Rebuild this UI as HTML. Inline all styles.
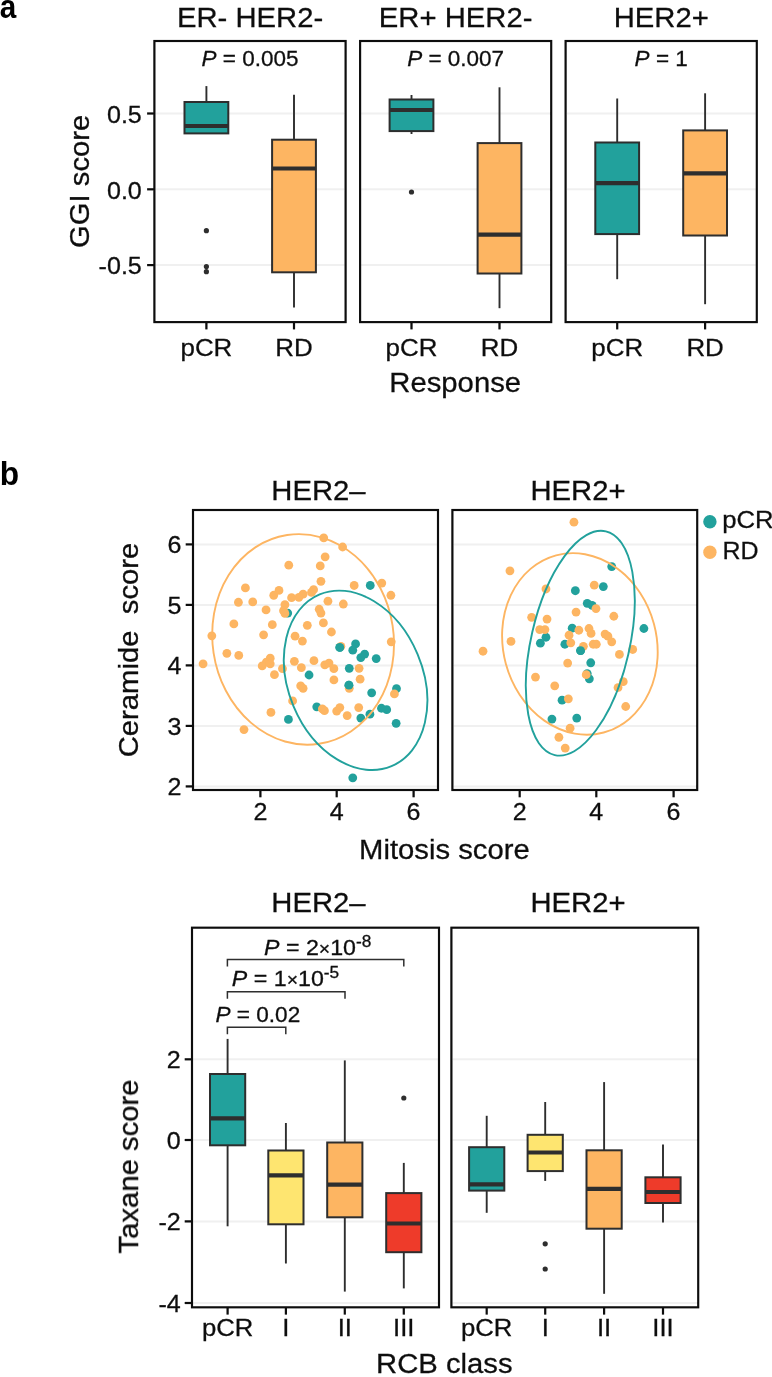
<!DOCTYPE html>
<html><head><meta charset="utf-8"><title>Figure</title>
<style>
html,body{margin:0;padding:0;background:#fff;}
svg{display:block;font-family:"Liberation Sans",sans-serif;}
</style></head><body>
<svg width="772" height="1377" viewBox="0 0 772 1377">
<defs><filter id="soft" x="0" y="0" width="772" height="1377" filterUnits="userSpaceOnUse"><feGaussianBlur stdDeviation="0.35"/></filter></defs>
<rect width="772" height="1377" fill="#fff"/>
<g filter="url(#soft)">
<text transform="translate(-0.30,17.70) scale(0.9,1)" font-size="33" text-anchor="start" font-weight="bold" font-style="normal" fill="#000" stroke="#000" stroke-width="0" >a</text>
<text transform="translate(-0.30,484.70) scale(0.96,1)" font-size="33" text-anchor="start" font-weight="bold" font-style="normal" fill="#000" stroke="#000" stroke-width="0" >b</text>
<line x1="154.40" x2="345.60" y1="113.50" y2="113.50" stroke="#F0F0F0" stroke-width="2"/>
<line x1="154.40" x2="345.60" y1="189.30" y2="189.30" stroke="#F0F0F0" stroke-width="2"/>
<line x1="154.40" x2="345.60" y1="265.10" y2="265.10" stroke="#F0F0F0" stroke-width="2"/>
<line x1="206.40" x2="206.40" y1="86.10" y2="102.00" stroke="#2e2e2e" stroke-width="1.9"/>
<rect x="184.50" y="102.00" width="43.80" height="31.40" fill="#21A19C" stroke="#2e2e2e" stroke-width="2.0"/>
<line x1="184.50" x2="228.30" y1="126.00" y2="126.00" stroke="#2e2e2e" stroke-width="4.2"/>
<circle cx="206.40" cy="230.70" r="2.6" fill="#2e2e2e"/>
<circle cx="206.40" cy="266.60" r="2.6" fill="#2e2e2e"/>
<circle cx="206.40" cy="271.70" r="2.6" fill="#2e2e2e"/>
<line x1="294.00" x2="294.00" y1="94.70" y2="139.70" stroke="#2e2e2e" stroke-width="1.9"/>
<line x1="294.00" x2="294.00" y1="272.30" y2="307.60" stroke="#2e2e2e" stroke-width="1.9"/>
<rect x="272.10" y="139.70" width="43.80" height="132.60" fill="#FDB562" stroke="#2e2e2e" stroke-width="2.0"/>
<line x1="272.10" x2="315.90" y1="168.50" y2="168.50" stroke="#2e2e2e" stroke-width="4.2"/>
<rect x="154.40" y="41.00" width="191.20" height="281.10" fill="none" stroke="#0a0a0a" stroke-width="2.15"/>
<text transform="translate(250.00,26.70) scale(1.045,1)" font-size="28" text-anchor="middle" font-weight="normal" font-style="normal" fill="#111" stroke="#111" stroke-width="0.3" >ER- HER2-</text>
<text transform="translate(250.00,66.10) scale(1.0,1)" font-size="22.5" text-anchor="middle" font-weight="normal" font-style="normal" fill="#111" stroke="#111" stroke-width="0.3" ><tspan font-style="italic">P</tspan> = 0.005</text>
<line x1="206.40" x2="206.40" y1="322.10" y2="329.40" stroke="#0a0a0a" stroke-width="2.2"/>
<text transform="translate(206.40,355.90) scale(1.08,1)" font-size="24" text-anchor="middle" font-weight="normal" font-style="normal" fill="#111" stroke="#111" stroke-width="0.3" >pCR</text>
<line x1="294.00" x2="294.00" y1="322.10" y2="329.40" stroke="#0a0a0a" stroke-width="2.2"/>
<text transform="translate(294.00,355.90) scale(1.08,1)" font-size="24" text-anchor="middle" font-weight="normal" font-style="normal" fill="#111" stroke="#111" stroke-width="0.3" >RD</text>
<line x1="360.10" x2="551.20" y1="113.50" y2="113.50" stroke="#F0F0F0" stroke-width="2"/>
<line x1="360.10" x2="551.20" y1="189.30" y2="189.30" stroke="#F0F0F0" stroke-width="2"/>
<line x1="360.10" x2="551.20" y1="265.10" y2="265.10" stroke="#F0F0F0" stroke-width="2"/>
<line x1="411.50" x2="411.50" y1="95.00" y2="99.50" stroke="#2e2e2e" stroke-width="1.9"/>
<line x1="411.50" x2="411.50" y1="131.10" y2="134.00" stroke="#2e2e2e" stroke-width="1.9"/>
<rect x="389.60" y="99.50" width="43.80" height="31.60" fill="#21A19C" stroke="#2e2e2e" stroke-width="2.0"/>
<line x1="389.60" x2="433.40" y1="110.00" y2="110.00" stroke="#2e2e2e" stroke-width="4.2"/>
<circle cx="411.50" cy="192.00" r="2.6" fill="#2e2e2e"/>
<line x1="499.50" x2="499.50" y1="87.30" y2="143.10" stroke="#2e2e2e" stroke-width="1.9"/>
<line x1="499.50" x2="499.50" y1="273.50" y2="308.20" stroke="#2e2e2e" stroke-width="1.9"/>
<rect x="477.60" y="143.10" width="43.80" height="130.40" fill="#FDB562" stroke="#2e2e2e" stroke-width="2.0"/>
<line x1="477.60" x2="521.40" y1="234.70" y2="234.70" stroke="#2e2e2e" stroke-width="4.2"/>
<rect x="360.10" y="41.00" width="191.10" height="281.10" fill="none" stroke="#0a0a0a" stroke-width="2.15"/>
<text transform="translate(455.65,26.70) scale(1.045,1)" font-size="28" text-anchor="middle" font-weight="normal" font-style="normal" fill="#111" stroke="#111" stroke-width="0.3" >ER+ HER2-</text>
<text transform="translate(455.65,66.10) scale(1.0,1)" font-size="22.5" text-anchor="middle" font-weight="normal" font-style="normal" fill="#111" stroke="#111" stroke-width="0.3" ><tspan font-style="italic">P</tspan> = 0.007</text>
<line x1="411.50" x2="411.50" y1="322.10" y2="329.40" stroke="#0a0a0a" stroke-width="2.2"/>
<text transform="translate(411.50,355.90) scale(1.08,1)" font-size="24" text-anchor="middle" font-weight="normal" font-style="normal" fill="#111" stroke="#111" stroke-width="0.3" >pCR</text>
<line x1="499.50" x2="499.50" y1="322.10" y2="329.40" stroke="#0a0a0a" stroke-width="2.2"/>
<text transform="translate(499.50,355.90) scale(1.08,1)" font-size="24" text-anchor="middle" font-weight="normal" font-style="normal" fill="#111" stroke="#111" stroke-width="0.3" >RD</text>
<line x1="565.60" x2="756.80" y1="113.50" y2="113.50" stroke="#F0F0F0" stroke-width="2"/>
<line x1="565.60" x2="756.80" y1="189.30" y2="189.30" stroke="#F0F0F0" stroke-width="2"/>
<line x1="565.60" x2="756.80" y1="265.10" y2="265.10" stroke="#F0F0F0" stroke-width="2"/>
<line x1="617.20" x2="617.20" y1="98.50" y2="142.50" stroke="#2e2e2e" stroke-width="1.9"/>
<line x1="617.20" x2="617.20" y1="234.10" y2="279.20" stroke="#2e2e2e" stroke-width="1.9"/>
<rect x="595.30" y="142.50" width="43.80" height="91.60" fill="#21A19C" stroke="#2e2e2e" stroke-width="2.0"/>
<line x1="595.30" x2="639.10" y1="183.10" y2="183.10" stroke="#2e2e2e" stroke-width="4.2"/>
<line x1="705.10" x2="705.10" y1="93.30" y2="130.40" stroke="#2e2e2e" stroke-width="1.9"/>
<line x1="705.10" x2="705.10" y1="235.50" y2="304.20" stroke="#2e2e2e" stroke-width="1.9"/>
<rect x="683.20" y="130.40" width="43.80" height="105.10" fill="#FDB562" stroke="#2e2e2e" stroke-width="2.0"/>
<line x1="683.20" x2="727.00" y1="173.30" y2="173.30" stroke="#2e2e2e" stroke-width="4.2"/>
<rect x="565.60" y="41.00" width="191.20" height="281.10" fill="none" stroke="#0a0a0a" stroke-width="2.15"/>
<text transform="translate(661.20,26.70) scale(1.045,1)" font-size="28" text-anchor="middle" font-weight="normal" font-style="normal" fill="#111" stroke="#111" stroke-width="0.3" >HER2+</text>
<text transform="translate(661.20,66.10) scale(1.0,1)" font-size="22.5" text-anchor="middle" font-weight="normal" font-style="normal" fill="#111" stroke="#111" stroke-width="0.3" ><tspan font-style="italic">P</tspan> = 1</text>
<line x1="617.20" x2="617.20" y1="322.10" y2="329.40" stroke="#0a0a0a" stroke-width="2.2"/>
<text transform="translate(617.20,355.90) scale(1.08,1)" font-size="24" text-anchor="middle" font-weight="normal" font-style="normal" fill="#111" stroke="#111" stroke-width="0.3" >pCR</text>
<line x1="705.10" x2="705.10" y1="322.10" y2="329.40" stroke="#0a0a0a" stroke-width="2.2"/>
<text transform="translate(705.10,355.90) scale(1.08,1)" font-size="24" text-anchor="middle" font-weight="normal" font-style="normal" fill="#111" stroke="#111" stroke-width="0.3" >RD</text>
<line x1="147.10" x2="154.40" y1="113.50" y2="113.50" stroke="#0a0a0a" stroke-width="2.2"/>
<text transform="translate(141.80,122.80) scale(1.045,1)" font-size="24" text-anchor="end" font-weight="normal" font-style="normal" fill="#111" stroke="#111" stroke-width="0.3" >0.5</text>
<line x1="147.10" x2="154.40" y1="189.30" y2="189.30" stroke="#0a0a0a" stroke-width="2.2"/>
<text transform="translate(141.80,198.60) scale(1.045,1)" font-size="24" text-anchor="end" font-weight="normal" font-style="normal" fill="#111" stroke="#111" stroke-width="0.3" >0.0</text>
<line x1="147.10" x2="154.40" y1="265.10" y2="265.10" stroke="#0a0a0a" stroke-width="2.2"/>
<text transform="translate(141.80,274.40) scale(1.045,1)" font-size="24" text-anchor="end" font-weight="normal" font-style="normal" fill="#111" stroke="#111" stroke-width="0.3" >-0.5</text>
<text transform="translate(88.80,181.30) rotate(-90) scale(1.045,1)" font-size="28" text-anchor="middle" fill="#111" stroke="#111" stroke-width="0.3" >GGI score</text>
<text transform="translate(455.20,392.20) scale(1.045,1)" font-size="28" text-anchor="middle" font-weight="normal" font-style="normal" fill="#111" stroke="#111" stroke-width="0.3" >Response</text>
<line x1="193.00" x2="438.00" y1="786.42" y2="786.42" stroke="#F0F0F0" stroke-width="2"/>
<line x1="193.00" x2="438.00" y1="725.91" y2="725.91" stroke="#F0F0F0" stroke-width="2"/>
<line x1="193.00" x2="438.00" y1="665.40" y2="665.40" stroke="#F0F0F0" stroke-width="2"/>
<line x1="193.00" x2="438.00" y1="604.89" y2="604.89" stroke="#F0F0F0" stroke-width="2"/>
<line x1="193.00" x2="438.00" y1="544.38" y2="544.38" stroke="#F0F0F0" stroke-width="2"/>
<line x1="452.40" x2="697.20" y1="786.42" y2="786.42" stroke="#F0F0F0" stroke-width="2"/>
<line x1="452.40" x2="697.20" y1="725.91" y2="725.91" stroke="#F0F0F0" stroke-width="2"/>
<line x1="452.40" x2="697.20" y1="665.40" y2="665.40" stroke="#F0F0F0" stroke-width="2"/>
<line x1="452.40" x2="697.20" y1="604.89" y2="604.89" stroke="#F0F0F0" stroke-width="2"/>
<line x1="452.40" x2="697.20" y1="544.38" y2="544.38" stroke="#F0F0F0" stroke-width="2"/>
<circle cx="370.26" cy="585.48" r="4.4" fill="#21A19C"/>
<circle cx="287.72" cy="613.11" r="4.4" fill="#21A19C"/>
<circle cx="339.83" cy="647.38" r="4.4" fill="#21A19C"/>
<circle cx="355.57" cy="643.89" r="4.4" fill="#21A19C"/>
<circle cx="352.77" cy="650.18" r="4.4" fill="#21A19C"/>
<circle cx="364.66" cy="654.03" r="4.4" fill="#21A19C"/>
<circle cx="360.82" cy="657.53" r="4.4" fill="#21A19C"/>
<circle cx="376.20" cy="658.58" r="4.4" fill="#21A19C"/>
<circle cx="349.27" cy="668.37" r="4.4" fill="#21A19C"/>
<circle cx="309.05" cy="675.01" r="4.4" fill="#21A19C"/>
<circle cx="348.92" cy="685.16" r="4.4" fill="#21A19C"/>
<circle cx="371.66" cy="692.85" r="4.4" fill="#21A19C"/>
<circle cx="396.49" cy="688.65" r="4.4" fill="#21A19C"/>
<circle cx="316.75" cy="706.84" r="4.4" fill="#21A19C"/>
<circle cx="288.42" cy="719.43" r="4.4" fill="#21A19C"/>
<circle cx="360.82" cy="718.03" r="4.4" fill="#21A19C"/>
<circle cx="369.91" cy="714.18" r="4.4" fill="#21A19C"/>
<circle cx="381.45" cy="708.24" r="4.4" fill="#21A19C"/>
<circle cx="386.70" cy="709.64" r="4.4" fill="#21A19C"/>
<circle cx="396.14" cy="723.28" r="4.4" fill="#21A19C"/>
<circle cx="352.77" cy="777.84" r="4.4" fill="#21A19C"/>
<circle cx="323.74" cy="537.91" r="4.4" fill="#FDB562"/>
<circle cx="342.63" cy="547.01" r="4.4" fill="#FDB562"/>
<circle cx="325.14" cy="556.80" r="4.4" fill="#FDB562"/>
<circle cx="288.77" cy="565.19" r="4.4" fill="#FDB562"/>
<circle cx="320.25" cy="565.89" r="4.4" fill="#FDB562"/>
<circle cx="320.95" cy="581.28" r="4.4" fill="#FDB562"/>
<circle cx="354.17" cy="585.48" r="4.4" fill="#FDB562"/>
<circle cx="381.80" cy="583.03" r="4.4" fill="#FDB562"/>
<circle cx="390.89" cy="595.27" r="4.4" fill="#FDB562"/>
<circle cx="245.40" cy="587.93" r="4.4" fill="#FDB562"/>
<circle cx="278.98" cy="590.38" r="4.4" fill="#FDB562"/>
<circle cx="273.73" cy="595.27" r="4.4" fill="#FDB562"/>
<circle cx="313.60" cy="589.68" r="4.4" fill="#FDB562"/>
<circle cx="311.50" cy="592.47" r="4.4" fill="#FDB562"/>
<circle cx="303.11" cy="594.22" r="4.4" fill="#FDB562"/>
<circle cx="298.91" cy="597.37" r="4.4" fill="#FDB562"/>
<circle cx="291.57" cy="597.72" r="4.4" fill="#FDB562"/>
<circle cx="238.41" cy="602.27" r="4.4" fill="#FDB562"/>
<circle cx="252.75" cy="601.92" r="4.4" fill="#FDB562"/>
<circle cx="284.92" cy="604.72" r="4.4" fill="#FDB562"/>
<circle cx="327.94" cy="601.22" r="4.4" fill="#FDB562"/>
<circle cx="343.33" cy="604.02" r="4.4" fill="#FDB562"/>
<circle cx="266.04" cy="609.96" r="4.4" fill="#FDB562"/>
<circle cx="283.52" cy="610.66" r="4.4" fill="#FDB562"/>
<circle cx="284.92" cy="613.46" r="4.4" fill="#FDB562"/>
<circle cx="319.20" cy="609.26" r="4.4" fill="#FDB562"/>
<circle cx="320.95" cy="613.11" r="4.4" fill="#FDB562"/>
<circle cx="233.86" cy="623.95" r="4.4" fill="#FDB562"/>
<circle cx="272.33" cy="624.65" r="4.4" fill="#FDB562"/>
<circle cx="307.31" cy="625.35" r="4.4" fill="#FDB562"/>
<circle cx="323.39" cy="622.90" r="4.4" fill="#FDB562"/>
<circle cx="211.83" cy="635.84" r="4.4" fill="#FDB562"/>
<circle cx="263.59" cy="634.79" r="4.4" fill="#FDB562"/>
<circle cx="295.06" cy="636.19" r="4.4" fill="#FDB562"/>
<circle cx="302.41" cy="641.09" r="4.4" fill="#FDB562"/>
<circle cx="331.44" cy="631.99" r="4.4" fill="#FDB562"/>
<circle cx="391.24" cy="641.79" r="4.4" fill="#FDB562"/>
<circle cx="226.87" cy="653.33" r="4.4" fill="#FDB562"/>
<circle cx="238.76" cy="655.43" r="4.4" fill="#FDB562"/>
<circle cx="203.08" cy="663.82" r="4.4" fill="#FDB562"/>
<circle cx="270.23" cy="658.23" r="4.4" fill="#FDB562"/>
<circle cx="266.39" cy="662.07" r="4.4" fill="#FDB562"/>
<circle cx="262.19" cy="665.92" r="4.4" fill="#FDB562"/>
<circle cx="270.23" cy="663.82" r="4.4" fill="#FDB562"/>
<circle cx="282.47" cy="668.72" r="4.4" fill="#FDB562"/>
<circle cx="294.37" cy="661.37" r="4.4" fill="#FDB562"/>
<circle cx="301.36" cy="667.67" r="4.4" fill="#FDB562"/>
<circle cx="313.95" cy="660.67" r="4.4" fill="#FDB562"/>
<circle cx="324.79" cy="664.87" r="4.4" fill="#FDB562"/>
<circle cx="328.99" cy="663.12" r="4.4" fill="#FDB562"/>
<circle cx="333.89" cy="668.72" r="4.4" fill="#FDB562"/>
<circle cx="359.07" cy="668.37" r="4.4" fill="#FDB562"/>
<circle cx="274.43" cy="674.66" r="4.4" fill="#FDB562"/>
<circle cx="333.89" cy="679.91" r="4.4" fill="#FDB562"/>
<circle cx="360.12" cy="679.21" r="4.4" fill="#FDB562"/>
<circle cx="300.66" cy="685.85" r="4.4" fill="#FDB562"/>
<circle cx="303.11" cy="688.30" r="4.4" fill="#FDB562"/>
<circle cx="349.27" cy="688.30" r="4.4" fill="#FDB562"/>
<circle cx="394.39" cy="693.90" r="4.4" fill="#FDB562"/>
<circle cx="292.62" cy="700.89" r="4.4" fill="#FDB562"/>
<circle cx="270.93" cy="712.44" r="4.4" fill="#FDB562"/>
<circle cx="322.34" cy="708.94" r="4.4" fill="#FDB562"/>
<circle cx="324.44" cy="710.69" r="4.4" fill="#FDB562"/>
<circle cx="336.68" cy="711.04" r="4.4" fill="#FDB562"/>
<circle cx="339.83" cy="707.54" r="4.4" fill="#FDB562"/>
<circle cx="347.18" cy="715.58" r="4.4" fill="#FDB562"/>
<circle cx="358.72" cy="707.54" r="4.4" fill="#FDB562"/>
<circle cx="244.00" cy="729.57" r="4.4" fill="#FDB562"/>
<circle cx="340.88" cy="646.33" r="4.4" fill="#FDB562"/>
<circle cx="348.92" cy="685.16" r="4.4" fill="#21A19C"/>
<circle cx="339.83" cy="647.38" r="4.4" fill="#21A19C"/>
<ellipse cx="303.10" cy="639.40" rx="105.62" ry="90.53" transform="rotate(81.31 303.10 639.40)" fill="none" stroke="#FDB562" stroke-width="1.9"/>
<ellipse cx="355.60" cy="680.30" rx="93.08" ry="67.26" transform="rotate(67.29 355.60 680.30)" fill="none" stroke="#21A19C" stroke-width="1.9"/>
<circle cx="611.72" cy="566.59" r="4.4" fill="#21A19C"/>
<circle cx="575.35" cy="590.73" r="4.4" fill="#21A19C"/>
<circle cx="603.33" cy="586.53" r="4.4" fill="#21A19C"/>
<circle cx="587.24" cy="603.32" r="4.4" fill="#21A19C"/>
<circle cx="592.14" cy="605.41" r="4.4" fill="#21A19C"/>
<circle cx="572.20" cy="628.15" r="4.4" fill="#21A19C"/>
<circle cx="643.90" cy="628.50" r="4.4" fill="#21A19C"/>
<circle cx="545.97" cy="637.24" r="4.4" fill="#21A19C"/>
<circle cx="540.38" cy="643.19" r="4.4" fill="#21A19C"/>
<circle cx="564.86" cy="644.24" r="4.4" fill="#21A19C"/>
<circle cx="580.60" cy="650.53" r="4.4" fill="#21A19C"/>
<circle cx="590.74" cy="662.77" r="4.4" fill="#21A19C"/>
<circle cx="587.24" cy="673.61" r="4.4" fill="#21A19C"/>
<circle cx="589.34" cy="678.86" r="4.4" fill="#21A19C"/>
<circle cx="562.06" cy="700.19" r="4.4" fill="#21A19C"/>
<circle cx="551.92" cy="719.08" r="4.4" fill="#21A19C"/>
<circle cx="576.75" cy="718.03" r="4.4" fill="#21A19C"/>
<circle cx="573.95" cy="522.18" r="4.4" fill="#FDB562"/>
<circle cx="509.95" cy="570.79" r="4.4" fill="#FDB562"/>
<circle cx="545.97" cy="588.98" r="4.4" fill="#FDB562"/>
<circle cx="594.24" cy="585.13" r="4.4" fill="#FDB562"/>
<circle cx="576.05" cy="612.06" r="4.4" fill="#FDB562"/>
<circle cx="595.98" cy="608.56" r="4.4" fill="#FDB562"/>
<circle cx="531.63" cy="617.31" r="4.4" fill="#FDB562"/>
<circle cx="547.02" cy="619.05" r="4.4" fill="#FDB562"/>
<circle cx="613.82" cy="616.26" r="4.4" fill="#FDB562"/>
<circle cx="539.68" cy="629.55" r="4.4" fill="#FDB562"/>
<circle cx="544.92" cy="629.55" r="4.4" fill="#FDB562"/>
<circle cx="578.85" cy="630.25" r="4.4" fill="#FDB562"/>
<circle cx="588.99" cy="628.50" r="4.4" fill="#FDB562"/>
<circle cx="591.09" cy="633.39" r="4.4" fill="#FDB562"/>
<circle cx="569.05" cy="635.14" r="4.4" fill="#FDB562"/>
<circle cx="570.80" cy="642.84" r="4.4" fill="#FDB562"/>
<circle cx="605.08" cy="634.09" r="4.4" fill="#FDB562"/>
<circle cx="607.88" cy="636.19" r="4.4" fill="#FDB562"/>
<circle cx="611.72" cy="641.79" r="4.4" fill="#FDB562"/>
<circle cx="583.39" cy="646.33" r="4.4" fill="#FDB562"/>
<circle cx="593.19" cy="644.24" r="4.4" fill="#FDB562"/>
<circle cx="596.33" cy="644.24" r="4.4" fill="#FDB562"/>
<circle cx="511.00" cy="641.44" r="4.4" fill="#FDB562"/>
<circle cx="483.02" cy="651.23" r="4.4" fill="#FDB562"/>
<circle cx="632.71" cy="649.48" r="4.4" fill="#FDB562"/>
<circle cx="619.42" cy="654.38" r="4.4" fill="#FDB562"/>
<circle cx="567.66" cy="663.12" r="4.4" fill="#FDB562"/>
<circle cx="535.48" cy="677.11" r="4.4" fill="#FDB562"/>
<circle cx="586.19" cy="674.66" r="4.4" fill="#FDB562"/>
<circle cx="554.72" cy="685.85" r="4.4" fill="#FDB562"/>
<circle cx="623.26" cy="681.66" r="4.4" fill="#FDB562"/>
<circle cx="618.02" cy="687.60" r="4.4" fill="#FDB562"/>
<circle cx="568.35" cy="698.80" r="4.4" fill="#FDB562"/>
<circle cx="625.71" cy="706.49" r="4.4" fill="#FDB562"/>
<circle cx="570.10" cy="728.17" r="4.4" fill="#FDB562"/>
<circle cx="558.91" cy="737.27" r="4.4" fill="#FDB562"/>
<circle cx="565.21" cy="748.11" r="4.4" fill="#FDB562"/>
<circle cx="580.60" cy="650.53" r="4.4" fill="#21A19C"/>
<ellipse cx="579.90" cy="643.90" rx="91.74" ry="76.70" transform="rotate(74.96 579.90 643.90)" fill="none" stroke="#FDB562" stroke-width="1.9"/>
<ellipse cx="580.30" cy="643.20" rx="114.74" ry="49.27" transform="rotate(102.86 580.30 643.20)" fill="none" stroke="#21A19C" stroke-width="1.9"/>
<rect x="193.00" y="510.00" width="245.00" height="280.00" fill="none" stroke="#0a0a0a" stroke-width="2.15"/>
<line x1="260.40" x2="260.40" y1="790.00" y2="797.30" stroke="#0a0a0a" stroke-width="2.2"/>
<text transform="translate(260.40,820.00) scale(1.045,1)" font-size="24" text-anchor="middle" font-weight="normal" font-style="normal" fill="#111" stroke="#111" stroke-width="0.3" >2</text>
<line x1="336.70" x2="336.70" y1="790.00" y2="797.30" stroke="#0a0a0a" stroke-width="2.2"/>
<text transform="translate(336.70,820.00) scale(1.045,1)" font-size="24" text-anchor="middle" font-weight="normal" font-style="normal" fill="#111" stroke="#111" stroke-width="0.3" >4</text>
<line x1="413.60" x2="413.60" y1="790.00" y2="797.30" stroke="#0a0a0a" stroke-width="2.2"/>
<text transform="translate(413.60,820.00) scale(1.045,1)" font-size="24" text-anchor="middle" font-weight="normal" font-style="normal" fill="#111" stroke="#111" stroke-width="0.3" >6</text>
<rect x="452.40" y="510.00" width="244.80" height="280.00" fill="none" stroke="#0a0a0a" stroke-width="2.15"/>
<line x1="519.70" x2="519.70" y1="790.00" y2="797.30" stroke="#0a0a0a" stroke-width="2.2"/>
<text transform="translate(519.70,820.00) scale(1.045,1)" font-size="24" text-anchor="middle" font-weight="normal" font-style="normal" fill="#111" stroke="#111" stroke-width="0.3" >2</text>
<line x1="596.30" x2="596.30" y1="790.00" y2="797.30" stroke="#0a0a0a" stroke-width="2.2"/>
<text transform="translate(596.30,820.00) scale(1.045,1)" font-size="24" text-anchor="middle" font-weight="normal" font-style="normal" fill="#111" stroke="#111" stroke-width="0.3" >4</text>
<line x1="673.60" x2="673.60" y1="790.00" y2="797.30" stroke="#0a0a0a" stroke-width="2.2"/>
<text transform="translate(673.60,820.00) scale(1.045,1)" font-size="24" text-anchor="middle" font-weight="normal" font-style="normal" fill="#111" stroke="#111" stroke-width="0.3" >6</text>
<text transform="translate(318.50,500.30) scale(1.045,1)" font-size="28" text-anchor="middle" font-weight="normal" font-style="normal" fill="#111" stroke="#111" stroke-width="0.3" >HER2–</text>
<text transform="translate(578.00,500.30) scale(1.045,1)" font-size="28" text-anchor="middle" font-weight="normal" font-style="normal" fill="#111" stroke="#111" stroke-width="0.3" >HER2+</text>
<line x1="185.70" x2="193.00" y1="786.42" y2="786.42" stroke="#0a0a0a" stroke-width="2.2"/>
<text transform="translate(181.40,795.42) scale(1.045,1)" font-size="24" text-anchor="end" font-weight="normal" font-style="normal" fill="#111" stroke="#111" stroke-width="0.3" >2</text>
<line x1="185.70" x2="193.00" y1="725.91" y2="725.91" stroke="#0a0a0a" stroke-width="2.2"/>
<text transform="translate(181.40,734.91) scale(1.045,1)" font-size="24" text-anchor="end" font-weight="normal" font-style="normal" fill="#111" stroke="#111" stroke-width="0.3" >3</text>
<line x1="185.70" x2="193.00" y1="665.40" y2="665.40" stroke="#0a0a0a" stroke-width="2.2"/>
<text transform="translate(181.40,674.40) scale(1.045,1)" font-size="24" text-anchor="end" font-weight="normal" font-style="normal" fill="#111" stroke="#111" stroke-width="0.3" >4</text>
<line x1="185.70" x2="193.00" y1="604.89" y2="604.89" stroke="#0a0a0a" stroke-width="2.2"/>
<text transform="translate(181.40,613.89) scale(1.045,1)" font-size="24" text-anchor="end" font-weight="normal" font-style="normal" fill="#111" stroke="#111" stroke-width="0.3" >5</text>
<line x1="185.70" x2="193.00" y1="544.38" y2="544.38" stroke="#0a0a0a" stroke-width="2.2"/>
<text transform="translate(181.40,553.38) scale(1.045,1)" font-size="24" text-anchor="end" font-weight="normal" font-style="normal" fill="#111" stroke="#111" stroke-width="0.3" >6</text>
<text transform="translate(137.50,650.00) rotate(-90) scale(1.045,1)" font-size="28" text-anchor="middle" fill="#111" stroke="#111" stroke-width="0.3" xml:space="preserve">Ceramide&#160;&#160;score</text>
<text transform="translate(444.40,859.30) scale(1.045,1)" font-size="28" text-anchor="middle" font-weight="normal" font-style="normal" fill="#111" stroke="#111" stroke-width="0.3" >Mitosis score</text>
<circle cx="709.9" cy="521.8" r="6.7" fill="#21A19C"/>
<circle cx="709.9" cy="552.3" r="6.7" fill="#FDB562"/>
<text transform="translate(722.20,528.00) scale(1.07,1)" font-size="24" text-anchor="start" font-weight="normal" font-style="normal" fill="#111" stroke="#111" stroke-width="0.3" >pCR</text>
<text transform="translate(722.50,559.10) scale(1.04,1)" font-size="24" text-anchor="start" font-weight="normal" font-style="normal" fill="#111" stroke="#111" stroke-width="0.3" >RD</text>
<line x1="192.00" x2="439.00" y1="1059.30" y2="1059.30" stroke="#F0F0F0" stroke-width="2"/>
<line x1="192.00" x2="439.00" y1="1140.00" y2="1140.00" stroke="#F0F0F0" stroke-width="2"/>
<line x1="192.00" x2="439.00" y1="1221.40" y2="1221.40" stroke="#F0F0F0" stroke-width="2"/>
<line x1="192.00" x2="439.00" y1="1303.00" y2="1303.00" stroke="#F0F0F0" stroke-width="2"/>
<line x1="451.40" x2="698.20" y1="1059.30" y2="1059.30" stroke="#F0F0F0" stroke-width="2"/>
<line x1="451.40" x2="698.20" y1="1140.00" y2="1140.00" stroke="#F0F0F0" stroke-width="2"/>
<line x1="451.40" x2="698.20" y1="1221.40" y2="1221.40" stroke="#F0F0F0" stroke-width="2"/>
<line x1="451.40" x2="698.20" y1="1303.00" y2="1303.00" stroke="#F0F0F0" stroke-width="2"/>
<line x1="227.60" x2="227.60" y1="1038.90" y2="1074.00" stroke="#2e2e2e" stroke-width="1.9"/>
<line x1="227.60" x2="227.60" y1="1145.30" y2="1226.30" stroke="#2e2e2e" stroke-width="1.9"/>
<rect x="210.00" y="1074.00" width="35.20" height="71.30" fill="#21A19C" stroke="#2e2e2e" stroke-width="2.0"/>
<line x1="210.00" x2="245.20" y1="1118.30" y2="1118.30" stroke="#2e2e2e" stroke-width="4.2"/>
<line x1="285.90" x2="285.90" y1="1123.00" y2="1150.50" stroke="#2e2e2e" stroke-width="1.9"/>
<line x1="285.90" x2="285.90" y1="1224.30" y2="1263.50" stroke="#2e2e2e" stroke-width="1.9"/>
<rect x="268.30" y="1150.50" width="35.20" height="73.80" fill="#FEE570" stroke="#2e2e2e" stroke-width="2.0"/>
<line x1="268.30" x2="303.50" y1="1175.40" y2="1175.40" stroke="#2e2e2e" stroke-width="4.2"/>
<line x1="344.80" x2="344.80" y1="1060.40" y2="1142.50" stroke="#2e2e2e" stroke-width="1.9"/>
<line x1="344.80" x2="344.80" y1="1217.30" y2="1291.60" stroke="#2e2e2e" stroke-width="1.9"/>
<rect x="327.20" y="1142.50" width="35.20" height="74.80" fill="#FDB562" stroke="#2e2e2e" stroke-width="2.0"/>
<line x1="327.20" x2="362.40" y1="1184.60" y2="1184.60" stroke="#2e2e2e" stroke-width="4.2"/>
<line x1="403.80" x2="403.80" y1="1162.90" y2="1193.10" stroke="#2e2e2e" stroke-width="1.9"/>
<line x1="403.80" x2="403.80" y1="1252.20" y2="1288.40" stroke="#2e2e2e" stroke-width="1.9"/>
<rect x="386.20" y="1193.10" width="35.20" height="59.10" fill="#EE3B2B" stroke="#2e2e2e" stroke-width="2.0"/>
<line x1="386.20" x2="421.40" y1="1223.50" y2="1223.50" stroke="#2e2e2e" stroke-width="4.2"/>
<circle cx="403.80" cy="1098.00" r="2.6" fill="#2e2e2e"/>
<line x1="486.70" x2="486.70" y1="1115.80" y2="1147.20" stroke="#2e2e2e" stroke-width="1.9"/>
<line x1="486.70" x2="486.70" y1="1190.60" y2="1212.80" stroke="#2e2e2e" stroke-width="1.9"/>
<rect x="469.10" y="1147.20" width="35.20" height="43.40" fill="#21A19C" stroke="#2e2e2e" stroke-width="2.0"/>
<line x1="469.10" x2="504.30" y1="1184.40" y2="1184.40" stroke="#2e2e2e" stroke-width="4.2"/>
<line x1="545.20" x2="545.20" y1="1102.00" y2="1134.80" stroke="#2e2e2e" stroke-width="1.9"/>
<line x1="545.20" x2="545.20" y1="1171.10" y2="1180.90" stroke="#2e2e2e" stroke-width="1.9"/>
<rect x="527.60" y="1134.80" width="35.20" height="36.30" fill="#FEE570" stroke="#2e2e2e" stroke-width="2.0"/>
<line x1="527.60" x2="562.80" y1="1152.50" y2="1152.50" stroke="#2e2e2e" stroke-width="4.2"/>
<circle cx="545.20" cy="1243.80" r="2.6" fill="#2e2e2e"/>
<circle cx="545.20" cy="1269.00" r="2.6" fill="#2e2e2e"/>
<line x1="604.10" x2="604.10" y1="1082.10" y2="1150.30" stroke="#2e2e2e" stroke-width="1.9"/>
<line x1="604.10" x2="604.10" y1="1228.70" y2="1293.80" stroke="#2e2e2e" stroke-width="1.9"/>
<rect x="586.50" y="1150.30" width="35.20" height="78.40" fill="#FDB562" stroke="#2e2e2e" stroke-width="2.0"/>
<line x1="586.50" x2="621.70" y1="1188.80" y2="1188.80" stroke="#2e2e2e" stroke-width="4.2"/>
<line x1="663.00" x2="663.00" y1="1144.50" y2="1177.30" stroke="#2e2e2e" stroke-width="1.9"/>
<line x1="663.00" x2="663.00" y1="1203.00" y2="1222.50" stroke="#2e2e2e" stroke-width="1.9"/>
<rect x="645.40" y="1177.30" width="35.20" height="25.70" fill="#EE3B2B" stroke="#2e2e2e" stroke-width="2.0"/>
<line x1="645.40" x2="680.60" y1="1192.00" y2="1192.00" stroke="#2e2e2e" stroke-width="4.2"/>
<path d="M227.40,966.40 V959.40 H403.80 V966.40" fill="none" stroke="#2e2e2e" stroke-width="1.5"/>
<path d="M227.40,998.80 V991.80 H345.00 V998.80" fill="none" stroke="#2e2e2e" stroke-width="1.5"/>
<path d="M227.40,1034.20 V1027.20 H285.80 V1034.20" fill="none" stroke="#2e2e2e" stroke-width="1.5"/>
<text transform="translate(264.00,954.80) scale(1.08,1)" font-size="21.5" text-anchor="start" font-weight="normal" font-style="normal" fill="#111" stroke="#111" stroke-width="0.3" ><tspan font-style="italic">P</tspan> = 2<tspan font-size="18">×</tspan>10<tspan font-size="16" dy="-8">-8</tspan></text>
<text transform="translate(231.80,986.20) scale(1.08,1)" font-size="21.5" text-anchor="start" font-weight="normal" font-style="normal" fill="#111" stroke="#111" stroke-width="0.3" ><tspan font-style="italic">P</tspan> = 1<tspan font-size="18">×</tspan>10<tspan font-size="16" dy="-8">-5</tspan></text>
<text transform="translate(215.50,1021.70) scale(1.05,1)" font-size="21.5" text-anchor="start" font-weight="normal" font-style="normal" fill="#111" stroke="#111" stroke-width="0.3" ><tspan font-style="italic">P</tspan> = 0.02</text>
<rect x="192.00" y="927.70" width="247.00" height="379.60" fill="none" stroke="#0a0a0a" stroke-width="2.15"/>
<line x1="227.60" x2="227.60" y1="1307.30" y2="1314.60" stroke="#0a0a0a" stroke-width="2.2"/>
<text transform="translate(227.60,1336.20) scale(1.07,1)" font-size="24" text-anchor="middle" font-weight="normal" font-style="normal" fill="#111" stroke="#111" stroke-width="0.3" >pCR</text>
<line x1="285.90" x2="285.90" y1="1307.30" y2="1314.60" stroke="#0a0a0a" stroke-width="2.2"/>
<text transform="translate(285.90,1336.20) scale(1.07,1)" font-size="24" text-anchor="middle" font-weight="normal" font-style="normal" fill="#111" stroke="#111" stroke-width="0.3" >I</text>
<line x1="344.80" x2="344.80" y1="1307.30" y2="1314.60" stroke="#0a0a0a" stroke-width="2.2"/>
<text transform="translate(344.80,1336.20) scale(1.07,1)" font-size="24" text-anchor="middle" font-weight="normal" font-style="normal" fill="#111" stroke="#111" stroke-width="0.3" >II</text>
<line x1="403.80" x2="403.80" y1="1307.30" y2="1314.60" stroke="#0a0a0a" stroke-width="2.2"/>
<text transform="translate(403.80,1336.20) scale(1.07,1)" font-size="24" text-anchor="middle" font-weight="normal" font-style="normal" fill="#111" stroke="#111" stroke-width="0.3" >III</text>
<rect x="451.40" y="927.70" width="246.80" height="379.60" fill="none" stroke="#0a0a0a" stroke-width="2.15"/>
<line x1="486.70" x2="486.70" y1="1307.30" y2="1314.60" stroke="#0a0a0a" stroke-width="2.2"/>
<text transform="translate(486.70,1336.20) scale(1.07,1)" font-size="24" text-anchor="middle" font-weight="normal" font-style="normal" fill="#111" stroke="#111" stroke-width="0.3" >pCR</text>
<line x1="545.20" x2="545.20" y1="1307.30" y2="1314.60" stroke="#0a0a0a" stroke-width="2.2"/>
<text transform="translate(545.20,1336.20) scale(1.07,1)" font-size="24" text-anchor="middle" font-weight="normal" font-style="normal" fill="#111" stroke="#111" stroke-width="0.3" >I</text>
<line x1="604.10" x2="604.10" y1="1307.30" y2="1314.60" stroke="#0a0a0a" stroke-width="2.2"/>
<text transform="translate(604.10,1336.20) scale(1.07,1)" font-size="24" text-anchor="middle" font-weight="normal" font-style="normal" fill="#111" stroke="#111" stroke-width="0.3" >II</text>
<line x1="663.00" x2="663.00" y1="1307.30" y2="1314.60" stroke="#0a0a0a" stroke-width="2.2"/>
<text transform="translate(663.00,1336.20) scale(1.07,1)" font-size="24" text-anchor="middle" font-weight="normal" font-style="normal" fill="#111" stroke="#111" stroke-width="0.3" >III</text>
<text transform="translate(318.50,912.20) scale(1.045,1)" font-size="28" text-anchor="middle" font-weight="normal" font-style="normal" fill="#111" stroke="#111" stroke-width="0.3" >HER2–</text>
<text transform="translate(578.00,912.20) scale(1.045,1)" font-size="28" text-anchor="middle" font-weight="normal" font-style="normal" fill="#111" stroke="#111" stroke-width="0.3" >HER2+</text>
<line x1="184.70" x2="192.00" y1="1059.30" y2="1059.30" stroke="#0a0a0a" stroke-width="2.2"/>
<text transform="translate(180.70,1068.30) scale(1.045,1)" font-size="24" text-anchor="end" font-weight="normal" font-style="normal" fill="#111" stroke="#111" stroke-width="0.3" >2</text>
<line x1="184.70" x2="192.00" y1="1140.00" y2="1140.00" stroke="#0a0a0a" stroke-width="2.2"/>
<text transform="translate(180.70,1149.00) scale(1.045,1)" font-size="24" text-anchor="end" font-weight="normal" font-style="normal" fill="#111" stroke="#111" stroke-width="0.3" >0</text>
<line x1="184.70" x2="192.00" y1="1221.40" y2="1221.40" stroke="#0a0a0a" stroke-width="2.2"/>
<text transform="translate(180.70,1230.40) scale(1.045,1)" font-size="24" text-anchor="end" font-weight="normal" font-style="normal" fill="#111" stroke="#111" stroke-width="0.3" >-2</text>
<line x1="184.70" x2="192.00" y1="1303.00" y2="1303.00" stroke="#0a0a0a" stroke-width="2.2"/>
<text transform="translate(180.70,1312.00) scale(1.045,1)" font-size="24" text-anchor="end" font-weight="normal" font-style="normal" fill="#111" stroke="#111" stroke-width="0.3" >-4</text>
<text transform="translate(138.00,1166.50) rotate(-90) scale(1.045,1)" font-size="28" text-anchor="middle" fill="#111" stroke="#111" stroke-width="0.3" >Taxane score</text>
<text transform="translate(444.30,1373.00) scale(1.045,1)" font-size="28" text-anchor="middle" font-weight="normal" font-style="normal" fill="#111" stroke="#111" stroke-width="0.3" >RCB class</text>
</g>
</svg>
</body></html>
